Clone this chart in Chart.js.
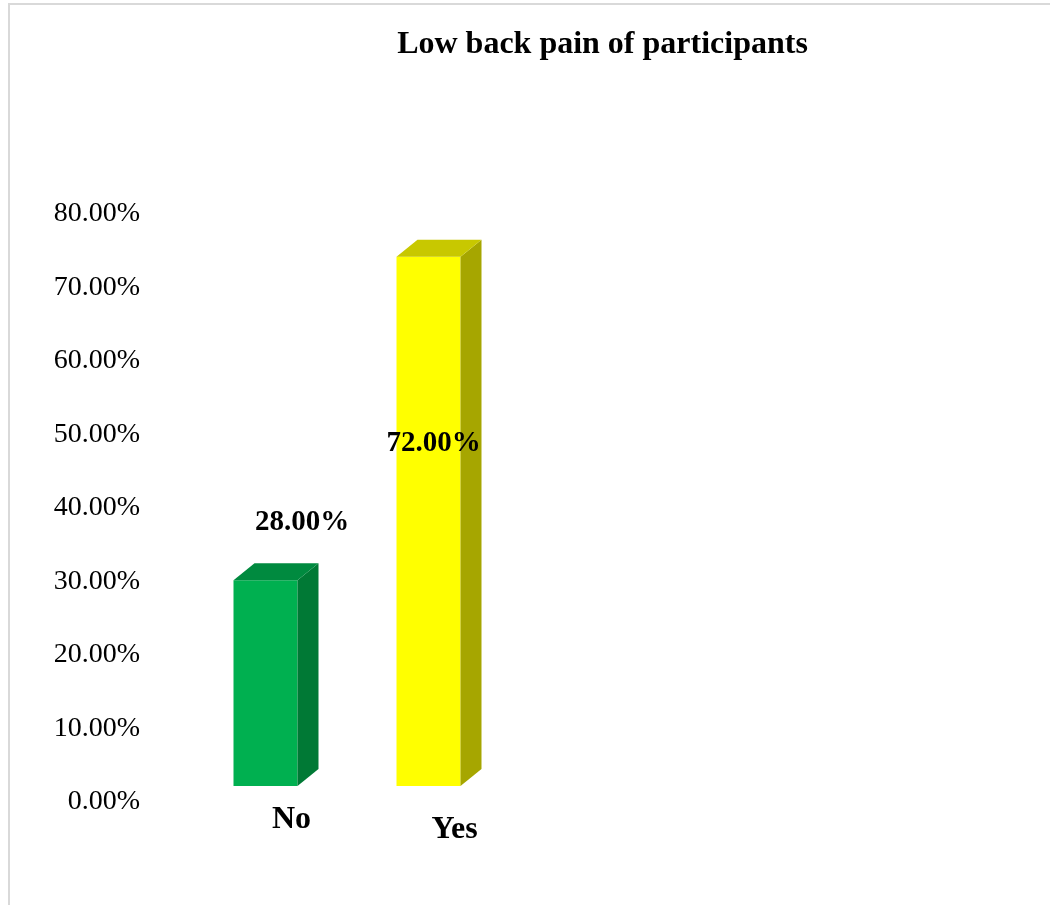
<!DOCTYPE html>
<html>
<head>
<meta charset="utf-8">
<script src="https://cdn.jsdelivr.net/npm/chart.js@4/dist/chart.umd.min.js"></script>
<style>
  html, body { margin: 0; padding: 0; background: #ffffff; overflow: hidden; }
  #wrap { position: relative; width: 1050px; height: 905px; }
  #frame { position: absolute; left: 8px; top: 3px; width: 1100px; height: 950px;
           border-top: 2px solid #d9d9d9; border-left: 2px solid #d9d9d9; }
  canvas { position: absolute; left: 0; top: 0; }
</style>
</head>
<body>
<div id="wrap">
  <div id="frame"></div>
  <canvas id="c" width="1050" height="905"></canvas>
</div>
<script>
// ---- data ----
const chartTitle = 'Low back pain of participants';
const categories = ['No', 'Yes'];
const values = [28, 72];
const valueLabels = ['28.00%', '72.00%'];
const yTickMin = 0;
const yTickMax = 80;
const yTickStep = 10;

// ---- styles ----
const FONT = '"Liberation Serif", "Times New Roman", serif';
const frontColors = ['#00B050', '#FFFF00'];
const topColors   = ['#008A3F', '#C8C800'];
const sideColors  = ['#007935', '#A6A600'];
const DEPTH_X = 21, DEPTH_Y = 17;

const bar3d = {
  id: 'bar3d',
  afterDatasetsDraw(chart) {
    const ctx = chart.ctx;
    const meta = chart.getDatasetMeta(0);
    meta.data.forEach((bar, i) => {
      const p = bar.getProps(['x', 'y', 'base', 'width'], true);
      const l = p.x - p.width / 2, r = p.x + p.width / 2;
      const t = p.y, b = p.base;
      ctx.save();
      ctx.fillStyle = sideColors[i];
      ctx.beginPath();
      ctx.moveTo(r, t); ctx.lineTo(r + DEPTH_X, t - DEPTH_Y);
      ctx.lineTo(r + DEPTH_X, b - DEPTH_Y); ctx.lineTo(r, b); ctx.closePath();
      ctx.fill();
      ctx.fillStyle = topColors[i];
      ctx.beginPath();
      ctx.moveTo(l, t); ctx.lineTo(l + DEPTH_X, t - DEPTH_Y);
      ctx.lineTo(r + DEPTH_X, t - DEPTH_Y); ctx.lineTo(r, t); ctx.closePath();
      ctx.fill();
      ctx.restore();
    });
  }
};

const labelShift = [{ dx: 36.5, dy: -50 }, { dx: 5, dy: 194 }];
const valueLabelPlugin = {
  id: 'valueLabelPlugin',
  afterDatasetsDraw(chart) {
    const ctx = chart.ctx;
    const meta = chart.getDatasetMeta(0);
    ctx.save();
    ctx.font = 'bold 29px ' + FONT;
    ctx.fillStyle = '#000000';
    ctx.textAlign = 'center';
    ctx.textBaseline = 'alphabetic';
    meta.data.forEach((bar, i) => {
      const s = labelShift[i];
      ctx.fillText(valueLabels[i], bar.x + s.dx, bar.y + s.dy);
    });
    ctx.restore();
  }
};

const titlePlugin = {
  id: 'titlePlugin',
  afterDraw(chart) {
    const ctx = chart.ctx;
    ctx.save();
    ctx.font = 'bold 32px ' + FONT;
    ctx.fillStyle = '#000000';
    ctx.textAlign = 'center';
    ctx.textBaseline = 'alphabetic';
    ctx.fillText(chartTitle, 602.5, 53);
    ctx.restore();
  }
};

new Chart(document.getElementById('c'), {
  type: 'bar',
  data: {
    labels: categories,
    datasets: [{
      data: values,
      backgroundColor: frontColors,
      borderWidth: 0,
      barPercentage: 0.3926,
      categoryPercentage: 1.0
    }]
  },
  options: {
    responsive: false,
    animation: false,
    devicePixelRatio: 1,
    layout: { padding: { left: 0, right: 540, top: 198, bottom: 39 } },
    plugins: {
      legend: { display: false },
      tooltip: { enabled: false },
      title: { display: false }
    },
    scales: {
      x: {
        grid: { display: false, drawTicks: false },
        border: { display: false },
        ticks: {
          color: '#000000',
          padding: 15,
          labelOffset: 26,
          maxRotation: 0,
          font: (c) => ({ family: FONT, size: 32, weight: 'bold',
                          lineHeight: c.index === 1 ? 1.8 : 1.2 })
        },
        afterFit(scale) { scale.height = 80; }
      },
      y: {
        min: yTickMin,
        max: yTickMax,
        grid: { display: false, drawTicks: false },
        border: { display: false },
        ticks: {
          stepSize: yTickStep,
          color: '#000000',
          padding: 44,
          labelOffset: 16,
          font: { family: FONT, size: 28 },
          callback: (v) => Number(v).toFixed(2) + '%'
        },
        afterFit(scale) { scale.width = 184; }
      }
    }
  },
  plugins: [bar3d, valueLabelPlugin, titlePlugin]
});
</script>
</body>
</html>
